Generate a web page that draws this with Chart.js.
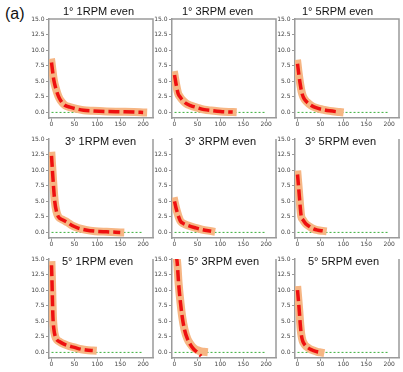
<!DOCTYPE html>
<html>
<head>
<meta charset="utf-8">
<script src="https://cdn.jsdelivr.net/npm/chart.js@4.4.0/dist/chart.umd.min.js"></script>
<style>
  body { margin: 0; background: #fff; }
  #wrap { position: relative; width: 403px; height: 372px; overflow: hidden; background: #fff; }
  #wrap canvas { position: absolute; }
  .ttl { position: absolute; font: 11px "Liberation Sans", Arial, sans-serif; line-height: 11px; color: #111; white-space: nowrap; z-index: 2; }
  #tag { position: absolute; left: 5px; top: 6px; font: 16px "Liberation Sans", Arial, sans-serif; line-height: 16px; color: #111; }
</style>
</head>
<body>
<div id="wrap"><div id="tag">(a)</div></div>
<script>
// ---- data ----
const titles = [
  '1° 1RPM even', '1° 3RPM even', '1° 5RPM even',
  '3° 1RPM even', '3° 3RPM even', '3° 5RPM even',
  '5° 1RPM even', '5° 3RPM even', '5° 5RPM even'
];
const xTicks = [0, 50, 100, 150, 200];
const yTicks = [0, 2.5, 5, 7.5, 10, 12.5, 15];
const yTickLabels = ['0.0', '2.5', '5.0', '7.5', '10.0', '12.5', '15.0'];

// green reference line
const zeroLineX = [0, 200];
const zeroLineY = [0, 0];

// measured curves (time, value)
const p11x = [0, 5, 10, 15, 20, 30, 40, 55, 70, 90, 120, 150, 180, 200];
const p11y = [8.0, 5.2, 3.7, 2.6, 1.9, 1.1, 0.85, 0.55, 0.35, 0.25, 0.15, 0.1, 0.05, 0.0];
const p12x = [0, 4, 8, 12, 17, 25, 35, 50, 65, 80, 100, 127];
const p12y = [6.0, 4.3, 3.0, 2.5, 2.0, 1.45, 1.1, 0.75, 0.45, 0.3, 0.15, 0.05];
const p13x = [0, 3, 6, 9, 13, 20, 30, 40, 55, 70, 92];
const p13y = [7.8, 6.0, 4.5, 3.3, 2.4, 1.7, 1.1, 0.75, 0.45, 0.25, 0.05];
const p21x = [0, 3, 7, 11, 15, 25, 35, 45, 58, 75, 95, 120, 150];
const p21y = [12.3, 8.8, 5.0, 3.3, 2.5, 2.0, 1.6, 1.1, 0.7, 0.4, 0.2, 0.1, 0.0];
const p22x = [0, 3, 6, 9, 13, 20, 30, 45, 60, 80];
const p22y = [5.0, 4.0, 3.2, 2.5, 1.8, 1.4, 1.1, 0.75, 0.45, 0.2];
const p23x = [0, 2, 4, 6, 8, 12, 18, 25, 35, 45, 55];
const p23y = [9.3, 7.6, 5.8, 4.0, 2.6, 2.0, 1.4, 1.0, 0.55, 0.35, 0.25];
const p31x = [0, 1, 2, 3, 5, 8, 12, 18, 25, 35, 50, 65, 80, 90];
const p31y = [14.0, 11.5, 8.5, 5.8, 3.8, 2.6, 2.0, 1.7, 1.4, 1.1, 0.8, 0.5, 0.35, 0.3];
const p32x = [0, 3, 6, 9, 13, 17, 22, 28, 35, 42, 50, 58, 64];
const p32y = [18, 16, 14.3, 11, 8, 5.6, 3.6, 2.2, 1.3, 0.7, 0.35, 0.15, 0.1];
const p33x = [0, 2, 4, 6, 8, 11, 15, 20, 27, 35, 43, 50];
const p33y = [10.0, 8.3, 6.5, 4.5, 3.0, 1.9, 1.3, 0.9, 0.55, 0.3, 0.1, 0.0];

// fitted curve for 5° 3RPM dips under zero, the others follow the measured one
const p32fitX = [0, 3, 6, 9, 13, 17, 22, 28, 35, 42, 50, 58];
const p32fitY = [18, 16, 14.3, 11, 8, 5.6, 3.6, 2.2, 1.2, 0.5, 0.0, -0.6];

// ---- layout ----
const colSpine = [49, 172, 295];
const rowTop = [19, 139, 259];
const AREA_W = 104, AREA_H = 99;
const Y_AXIS_W = 30, PAD_TOP = 8, PAD_RIGHT = 6, X_AXIS_H = 14;
const CV_W = Y_AXIS_W + AREA_W + PAD_RIGHT;
const CV_H = PAD_TOP + AREA_H + X_AXIS_H;
const X_MIN = -5.5, X_MAX = 221.5;
const Y_MIN = -0.9, Y_MAX = 15;

// title left edge and baseline
const titleX = [63, 182, 302, 65, 185, 305, 62, 188, 308];
const titleBase = [15, 145.5, 265.5];

const RED = 'rgb(238,16,16)';
const TAN = 'rgb(246,182,132)';
const GREEN = 'rgb(60,175,60)';
const AXIS = '#9a9a9a';
const TICK_TXT = '#444';

const panels = [
  { mx: p11x, my: p11y, fx: p11x, fy: p11y },
  { mx: p12x, my: p12y, fx: p12x, fy: p12y },
  { mx: p13x, my: p13y, fx: p13x, fy: p13y },
  { mx: p21x, my: p21y, fx: p21x, fy: p21y },
  { mx: p22x, my: p22y, fx: p22x, fy: p22y, hideTopLabel: true },
  { mx: p23x, my: p23y, fx: p23x, fy: p23y },
  { mx: p31x, my: p31y, fx: p31x, fy: p31y },
  { mx: p32x, my: p32y, fx: p32fitX, fy: p32fitY },
  { mx: p33x, my: p33y, fx: p33x, fy: p33y }
];

const pts = (xs, ys) => xs.map((x, i) => ({ x: x, y: ys[i] }));

// right border (and top border for the first row)
const framePlugin = {
  id: 'frame',
  afterDraw(chart, args, opts) {
    const { ctx, chartArea: a } = chart;
    ctx.save();
    ctx.strokeStyle = AXIS;
    ctx.lineWidth = 1.5;
    ctx.beginPath();
    ctx.moveTo(a.right, a.bottom);
    ctx.lineTo(a.right, a.top);
    if (opts.top) ctx.lineTo(a.left, a.top);
    ctx.stroke();
    ctx.restore();
  }
};

const wrap = document.getElementById('wrap');
const tickFont = { family: '"DejaVu Sans", sans-serif', size: 6 };

panels.forEach((p, i) => {
  const col = i % 3, row = Math.floor(i / 3);
  const cv = document.createElement('canvas');
  cv.width = CV_W;
  cv.height = CV_H;
  cv.style.left = (colSpine[col] - Y_AXIS_W) + 'px';
  cv.style.top = (rowTop[row] - PAD_TOP) + 'px';
  cv.style.width = CV_W + 'px';
  cv.style.height = CV_H + 'px';
  wrap.appendChild(cv);

  new Chart(cv, {
    type: 'line',
    data: {
      datasets: [
        { data: pts(p.fx, p.fy), borderColor: RED, borderWidth: 3.5, borderDash: [11, 4], order: 0, clip: 0 },
        { data: pts(p.mx, p.my), borderColor: TAN, borderWidth: 8, borderCapStyle: 'square', order: 1, clip: 0 },
        { data: pts(zeroLineX, zeroLineY), borderColor: GREEN, borderWidth: 1, borderDash: [2, 2], order: 2, cubicInterpolationMode: 'default' }
      ]
    },
    options: {
      responsive: false,
      animation: false,
      devicePixelRatio: 1,
      layout: { padding: { top: PAD_TOP, right: PAD_RIGHT, left: 0, bottom: 0 } },
      elements: {
        point: { radius: 0 },
        line: { cubicInterpolationMode: 'monotone', borderJoinStyle: 'round', fill: false }
      },
      plugins: { legend: { display: false }, tooltip: { enabled: false }, frame: { top: row === 0 } },
      scales: {
        x: {
          type: 'linear', min: X_MIN, max: X_MAX,
          afterFit: s => { s.height = X_AXIS_H; },
          afterBuildTicks: s => { s.ticks = xTicks.map(v => ({ value: v })); },
          ticks: { autoSkip: false, maxRotation: 0, font: tickFont, color: TICK_TXT, padding: 0 },
          grid: { drawOnChartArea: false, tickLength: 3, tickColor: AXIS },
          border: { color: AXIS, width: 1.5 }
        },
        y: {
          type: 'linear', min: Y_MIN, max: Y_MAX,
          afterFit: s => { s.width = Y_AXIS_W; },
          afterBuildTicks: s => { s.ticks = yTicks.map(v => ({ value: v })); },
          ticks: {
            autoSkip: false, font: tickFont, color: TICK_TXT, padding: 1.5,
            callback: (v) => {
              const k = yTicks.indexOf(v);
              if (p.hideTopLabel && v === 15) return '';
              return k >= 0 ? yTickLabels[k] : '';
            }
          },
          grid: { drawOnChartArea: false, tickLength: 3, tickColor: AXIS },
          border: { color: AXIS, width: 1.5 }
        }
      }
    },
    plugins: [framePlugin]
  });

  const t = document.createElement('div');
  t.className = 'ttl';
  t.textContent = titles[i];
  t.style.left = titleX[i] + 'px';
  t.style.top = (titleBase[row] - 9.3) + 'px';
  wrap.appendChild(t);
});
</script>
</body>
</html>
